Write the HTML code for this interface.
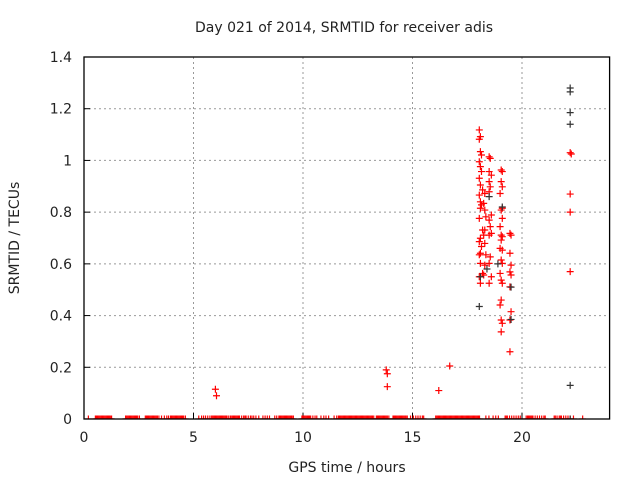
<!DOCTYPE html>
<html><head><meta charset="utf-8"><style>
body{margin:0;background:#fff}
svg{display:block;font-family:"DejaVu Sans","Liberation Sans",sans-serif}
</style></head><body>
<svg id="chart" width="640" height="480" viewBox="0 0 640 480">
<defs><clipPath id="pc"><rect x="84" y="57" width="525.6" height="362"/></clipPath></defs>
<rect width="640" height="480" fill="#fff"/>
<text x="344" y="32" font-size="14" text-anchor="middle" fill="#222">Day 021 of 2014, SRMTID for receiver adis</text>
<text x="19" y="238" font-size="14" text-anchor="middle" fill="#222" transform="rotate(-90 19 238)">SRMTID / TECUs</text>
<text x="347" y="472" font-size="14" text-anchor="middle" fill="#222">GPS time / hours</text>
<g id="grid"></g><g id="ticks"></g><g id="marks" clip-path="url(#pc)"></g>
<rect x="84" y="57" width="525.6" height="362" fill="none" stroke="#000" stroke-width="1.3"/>
</svg>
<script>
const xTicks=[0,5,10,15,20];
const yTicks=[0,0.2,0.4,0.6,0.8,1,1.2,1.4];
const yTickLabels=["0","0.2","0.4","0.6","0.8","1","1.2","1.4"];
const zeroHours=[0.2,0.52,0.57,0.62,0.67,0.72,0.77,0.82,0.87,0.92,0.97,1.02,1.07,1.12,1.17,1.22,1.26,1.9,1.95,2.0,2.05,2.1,2.15,2.2,2.25,2.3,2.35,2.4,2.45,2.53,2.8,2.85,2.9,2.95,3.0,3.05,3.1,3.15,3.2,3.25,3.3,3.35,3.42,3.54,3.67,3.78,3.86,3.95,4.0,4.05,4.1,4.15,4.2,4.25,4.3,4.35,4.4,4.45,4.5,4.55,4.63,5.24,5.37,5.46,5.55,5.65,5.75,5.83,5.88,5.93,5.98,6.03,6.08,6.13,6.18,6.23,6.28,6.33,6.38,6.43,6.48,6.53,6.61,6.69,6.75,6.8,6.85,6.9,6.95,7.0,7.05,7.1,7.2,7.29,7.35,7.4,7.5,7.6,7.67,7.75,7.85,7.98,8.17,8.27,8.37,8.47,8.71,8.8,8.9,8.95,9.0,9.05,9.1,9.15,9.2,9.25,9.3,9.35,9.4,9.45,9.5,9.56,9.95,10.0,10.05,10.1,10.15,10.2,10.25,10.3,10.35,10.45,10.55,10.63,10.82,10.95,11.05,11.17,11.42,11.54,11.62,11.67,11.72,11.77,11.82,11.87,11.92,11.97,12.02,12.07,12.12,12.17,12.22,12.27,12.32,12.37,12.42,12.47,12.52,12.57,12.62,12.67,12.72,12.77,12.82,12.87,12.92,12.97,13.02,13.07,13.12,13.17,13.23,13.35,13.4,13.45,13.5,13.55,13.6,13.65,13.7,13.75,13.8,13.85,13.92,14.11,14.15,14.2,14.25,14.3,14.35,14.4,14.45,14.5,14.55,14.6,14.65,14.7,14.76,14.91,15.04,15.15,15.25,15.35,15.45,15.51,16.06,16.11,16.16,16.21,16.26,16.31,16.36,16.41,16.46,16.51,16.56,16.61,16.66,16.71,16.76,16.81,16.86,16.91,16.96,17.01,17.06,17.11,17.16,17.21,17.26,17.31,17.36,17.41,17.46,17.51,17.56,17.61,17.66,17.71,17.76,17.81,17.86,17.91,17.96,18.01,18.06,18.35,18.49,18.68,18.8,18.92,19.23,19.28,19.33,19.43,19.53,19.63,19.73,19.83,19.92,20.19,20.25,20.3,20.35,20.4,20.45,20.5,20.6,20.7,20.8,20.9,21.0,21.06,21.47,21.52,21.6,21.7,21.75,21.8,21.9,22.0,22.1,22.2,22.35,22.77];
const redHours=[6.0,6.05,13.8,13.85,13.85,16.2,16.7,
18.05,18.1,18.05,18.1,18.15,18.05,18.1,18.15,18.05,18.1,18.2,18.05,18.1,18.15,18.1,18.05,18.2,18.1,18.05,18.15,18.1,18.05,18.1,18.2,18.05,18.1,
18.3,18.25,18.3,18.35,18.3,18.25,18.3,18.35,18.3,18.25,
18.5,18.55,18.5,18.6,18.5,18.55,18.5,18.6,18.5,18.55,18.6,18.5,18.55,18.5,18.6,18.5,
19.05,19.1,19.05,19.1,19.0,19.1,19.05,19.1,19.0,19.05,19.1,19.05,19.0,19.1,19.05,19.1,19.0,19.05,19.1,19.05,19.0,19.05,19.1,19.05,
19.45,19.5,19.45,19.5,19.45,19.5,19.45,19.5,19.45,19.45,
22.2,22.25,22.2,22.2,22.2];
const redValues=[0.115,0.09,0.19,0.175,0.125,0.11,0.205,
1.118,1.092,1.082,1.034,1.021,0.995,0.976,0.957,0.931,0.905,0.886,0.866,0.840,0.828,0.815,0.776,0.731,0.699,0.686,0.667,0.641,0.635,0.602,0.563,0.550,0.525,
0.872,0.834,0.808,0.782,0.731,0.711,0.679,0.635,0.595,0.557,
1.014,1.008,0.957,0.943,0.918,0.898,0.879,0.789,0.769,0.744,0.718,0.711,0.627,0.602,0.550,0.525,
0.963,0.957,0.918,0.898,0.872,0.815,0.808,0.776,0.744,0.711,0.705,0.692,0.660,0.653,0.615,0.602,0.563,0.537,0.525,0.460,0.441,0.383,0.370,0.337,
0.718,0.711,0.641,0.595,0.569,0.557,0.511,0.415,0.383,0.260,
1.03,1.025,0.87,0.80,0.57];
const blackHours=[22.2,22.2,22.2,22.2,22.2,18.05,18.1,18.4,18.9,19.5,19.5,19.1,18.5,22.2];
const blackValues=[1.28,1.265,1.185,1.14,0.13,0.435,0.55,0.58,0.6,0.51,0.385,0.82,0.86,0];
const X0=84,XW=525.6,XMAX=24,Y0=419,YH=362,YMAX=1.4;
const sx=h=>X0+h/XMAX*XW, sy=v=>Y0-v/YMAX*YH;
const NS="http://www.w3.org/2000/svg";
function mk(t,p,parent){const e=document.createElementNS(NS,t);for(const k in p)e.setAttribute(k,p[k]);parent.appendChild(e);return e;}
const grid=document.getElementById('grid'),ticks=document.getElementById('ticks'),marks=document.getElementById('marks');
xTicks.forEach((t,i)=>{const x=sx(t);
 if(i>0){const g=mk('line',{x1:x,x2:x,y1:57,y2:419,stroke:'#999','stroke-dasharray':'2,3'},grid);
 
 }
 const tk=mk('line',{x1:x,x2:x,y1:419,y2:413,stroke:'#000'},ticks);
 
 
 const l=mk('text',{x:x,y:442,'font-size':14,'text-anchor':'middle',fill:'#222'},ticks);l.textContent=String(t);
 
 });
yTicks.forEach((t,i)=>{const y=sy(t);
 if(i>0&&i<yTicks.length-1){const g=mk('line',{x1:84,x2:609.6,y1:y,y2:y,stroke:'#999','stroke-dasharray':'2,3'},grid);
 
 }
 const tk=mk('line',{x1:84,x2:90,y1:y,y2:y,stroke:'#000'},ticks);
 
 
 const l=mk('text',{x:72,y:y+5,'font-size':14,'text-anchor':'end',fill:'#222'},ticks);l.textContent=yTickLabels[i];
 
 });
function plus(h,v,c,name){const x=sx(h),y=sy(v);
 const p=mk('path',{d:`M${x-3.5} ${y}H${x+3.5}M${x} ${y-3.5}V${y+3.5}`,stroke:c,'stroke-width':1.2,fill:'none'},marks);
 
 }
zeroHours.forEach(h=>plus(h,0,'#f00','zero-point'));
redHours.forEach((h,i)=>plus(h,redValues[i],'#f00','red-point'));
blackHours.forEach((h,i)=>plus(h,blackValues[i],'#333','black-point'));
</script>
</body></html>
